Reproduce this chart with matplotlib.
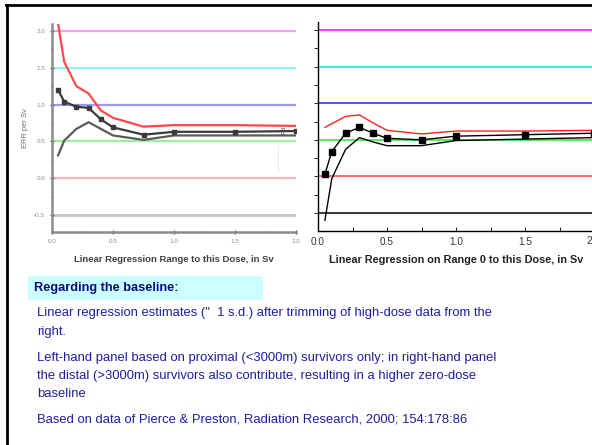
import matplotlib
matplotlib.use("Agg")
import matplotlib.pyplot as plt
from matplotlib.lines import Line2D
from matplotlib.patches import Rectangle

plt.rcParams['font.family'] = ['Liberation Sans', 'DejaVu Sans']

# ---- data ----
doses = [0.05, 0.1, 0.2, 0.3, 0.4, 0.5, 0.75, 1.0, 1.5, 2.0]

left_est = [1.20, 1.04, 0.97, 0.955, 0.80, 0.69, 0.59, 0.63, 0.63, 0.64]
left_upper = [2.10, 1.58, 1.25, 1.15, 0.92, 0.82, 0.70, 0.72, 0.72, 0.71]
left_lower = [0.31, 0.51, 0.67, 0.76, 0.67, 0.58, 0.52, 0.58, 0.58, 0.58]

right_est = [0.03, 0.34, 0.59, 0.67, 0.59, 0.52, 0.50, 0.55, 0.57, 0.59]
right_upper = [0.67, None, 0.82, 0.84, 0.73, 0.63, 0.58, 0.62, 0.62, 0.63]
right_lower = [-0.60, -0.03, 0.37, 0.53, 0.47, 0.42, 0.42, 0.49, 0.51, 0.53]

ref_levels = [2.0, 1.5, 1.0, 0.5, 0.0, -0.5]
left_ref_colors = ['#f5a0f5', '#90f2f2', '#9a9aea', '#9af09a', '#f8b8b8', '#c8c8c8']
right_ref_colors = ['#ff00ff', '#00e5e5', '#2222ff', '#33e033', '#ff4040', '#000000']

x_ticks = [0.0, 0.5, 1.0, 1.5, 2.0]
left_xticklabels = ['0.0', '0.5', '1.0', '1.5', '2.0']
right_xticklabels = ['0.0', '0.5', '1.0', '1.5', '']
right_last_label = '2'
y_ticks = [2.0, 1.5, 1.0, 0.5, 0.0, -0.5]
y_ticklabels = ['2.0', '1.5', '1.0', '0.5', '0.0', '-0.5']

W, H = 592, 445
fig = plt.figure(figsize=(W / 100, H / 100), dpi=100)

def fx(px):
    return px / W

def fy(py):
    return 1 - py / H

# ---- left panel (faded) ----
axL = fig.add_axes([fx(52), fy(232), fx(296) - fx(52), fy(24) - fy(232)])
axL.set_xlim(0, 2.0)
axL.set_ylim(-0.732, 2.095)
for lvl, c in zip(ref_levels, left_ref_colors):
    axL.axhline(lvl, color=c, lw=2.2 if lvl == -0.5 else 1.6, zorder=1)
axL.plot(doses, left_upper, color='#ff4848', lw=1.6, zorder=3)
axL.plot(doses, left_lower, color='#5a5a5a', lw=1.6, zorder=3)
axL.plot(doses, left_est, color='#3a3a3a', lw=1.6, marker='s', ms=3.5, zorder=4)
for s in ['top', 'right']:
    axL.spines[s].set_visible(False)
for s in ['left', 'bottom']:
    axL.spines[s].set_color('#8a8a8a')
    axL.spines[s].set_linewidth(1.8)
axL.set_xticks(x_ticks)
axL.set_xticklabels(left_xticklabels)
axL.set_xticks([0.25, 0.75, 1.25, 1.75], minor=True)
axL.set_yticks(y_ticks)
axL.set_yticklabels(y_ticklabels)
axL.set_yticks([1.75, 1.25, 0.75, 0.25, -0.25], minor=True)
axL.tick_params(axis='both', which='major', labelsize=4.5, labelcolor='#8a8a8a',
                color='#555555', length=3, width=1.0, direction='inout')
axL.tick_params(axis='both', which='minor', color='#555555', length=2, width=1.0,
                direction='inout')
axL.set_ylabel('ERR per Sv', fontsize=5.4, color='#707070', labelpad=4)
axL.set_xlabel('Linear Regression Range to this Dose, in Sv', fontsize=6.8,
               color='#404040', fontweight='bold', labelpad=8)
axL.text(1.9, 0.66, 'PB', rotation=90, fontsize=4.5, color='#404040',
         ha='center', va='center', zorder=5)
axL.plot([1.85, 1.85], [0.45, 0.08], color='#c0c0c0', lw=0.6, ls=':', zorder=2)

# ---- right panel ----
axR = fig.add_axes([fx(318), fy(231), fx(594) - fx(318), fy(22) - fy(231)])
axR.set_xlim(0, 2.0)
axR.set_ylim(-0.746, 2.11)
for lvl, c in zip(ref_levels, right_ref_colors):
    axR.axhline(lvl, color=c, lw=1.1, zorder=1)
ux = [d for d, v in zip(doses, right_upper) if v is not None]
uy = [v for v in right_upper if v is not None]
axR.plot(ux, uy, color='#ff2020', lw=1.0, zorder=3)
axR.plot(doses, right_lower, color='#000000', lw=1.0, zorder=3)
axR.plot(doses, right_est, color='#000000', lw=1.0, marker='s', ms=4.5, zorder=4)
for s in ['top', 'right']:
    axR.spines[s].set_visible(False)
for s in ['left', 'bottom']:
    axR.spines[s].set_color('#000000')
    axR.spines[s].set_linewidth(1.0)
axR.set_xticks(x_ticks)
axR.set_xticklabels(right_xticklabels)
axR.set_xticks([0.25, 0.75, 1.25, 1.75], minor=True)
axR.set_yticks(y_ticks)
axR.set_yticklabels([''] * len(y_ticks))
axR.set_yticks([1.75, 1.25, 0.75, 0.25, -0.25], minor=True)
axR.tick_params(axis='x', which='both', direction='in', length=3, width=0.6,
                labelsize=7.2, labelcolor='#333333', pad=4)
axR.tick_params(axis='y', which='both', direction='out', length=3, width=0.6)
fig.text(fx(586), fy(241), right_last_label, fontsize=7.2, color='#333333',
         ha='left', va='center')
axR.set_xlabel('Linear Regression on Range 0 to this Dose, in Sv', fontsize=7.8,
               fontweight='bold', color='#222222', labelpad=6)

# ---- slide frame ----
fig.add_artist(Line2D([fx(7), fx(7)], [fy(5), 0], color='black', lw=2.0,
                      transform=fig.transFigure))
fig.add_artist(Line2D([fx(6), 1], [fy(5), fy(5)], color='black', lw=2.0,
                      transform=fig.transFigure))

# ---- text block ----
fig.add_artist(Rectangle((fx(28), fy(300)), fx(263) - fx(28), fy(276) - fy(300),
                         transform=fig.transFigure, facecolor='#ccffff',
                         edgecolor='none'))
fig.text(fx(34), fy(288.5), 'Regarding the baseline:', fontsize=9.2,
         fontweight='bold', color='#0a0a80', va='center', ha='left')

body_color = '#1e1ea0'
lines = [
    (313, 'Linear regression estimates ("  1 s.d.) after trimming of high-dose data from the'),
    (332, 'right.'),
    (358, 'Left-hand panel based on proximal (<3000m) survivors only; in right-hand panel'),
    (376, 'the distal (>3000m) survivors also contribute, resulting in a higher zero-dose'),
    (394, 'baseline'),
    (420, 'Based on data of Pierce & Preston, Radiation Research, 2000; 154:178:86'),
]
for py, txt in lines:
    fig.text(fx(37), fy(py), txt, fontsize=9.35, color=body_color,
             va='center', ha='left')

fig.savefig('out.png', dpi=100, facecolor='white')
